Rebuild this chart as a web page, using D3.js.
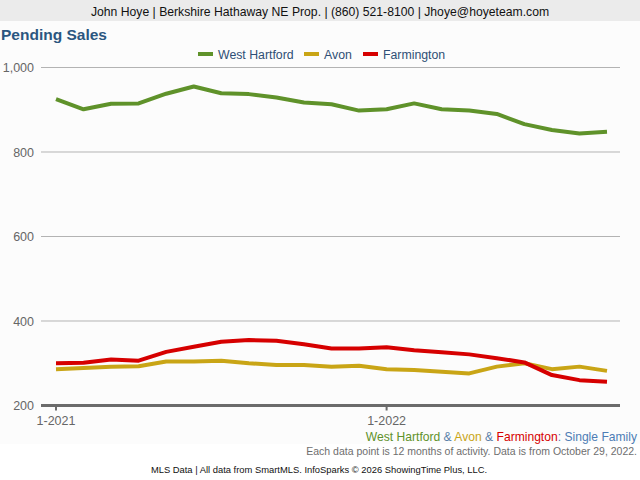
<!DOCTYPE html>
<html>
<head>
<meta charset="utf-8">
<script src="https://cdn.jsdelivr.net/npm/d3@7"></script>
<style>
  body { margin: 0; background: #fff; font-family: "Liberation Sans", Arial, sans-serif; }
  svg text { font-family: "Liberation Sans", Arial, sans-serif; }
</style>
</head>
<body>
<div id="chart"></div>
<script>
// months Jan 2021 .. Sep 2022
const months = ['1-2021','2-2021','3-2021','4-2021','5-2021','6-2021','7-2021','8-2021','9-2021','10-2021','11-2021','12-2021',
    '1-2022','2-2022','3-2022','4-2022','5-2022','6-2022','7-2022','8-2022','9-2022'];
const westHartford = [925, 901, 914, 915, 938, 955, 939, 937, 929, 917, 913, 898, 901, 915, 901, 898, 890, 866, 852, 844, 848];
const avon = [286, 289, 292, 293, 304, 304, 306, 300, 296, 296, 292, 294, 286, 284, 280, 276, 292, 300, 286, 292, 282];
const farmington = [300, 301, 309, 306, 327, 339, 351, 355, 353, 345, 335, 335, 338, 331, 326, 321, 312, 302, 272, 260, 256];
const yTicks = [200, 400, 600, 800, 1000];
const xTickLabels = ['1-2021', '1-2022'];

const seriesNames = ['West Hartford', 'Avon', 'Farmington'];
const seriesColors = ['#5f922a', '#c9a516', '#d60000'];
const series = [westHartford, avon, farmington];

const width = 640, height = 480;
const svg = d3.select('#chart').append('svg')
    .attr('width', width)
    .attr('height', height);

// header band
svg.append('rect')
    .attr('x', 0).attr('y', 0)
    .attr('width', width).attr('height', 21)
    .attr('fill', '#ebebeb');
svg.append('text')
    .attr('x', 320).attr('y', 15.5)
    .attr('text-anchor', 'middle')
    .attr('font-size', 12.2)
    .attr('fill', '#111')
    .text('John Hoye | Berkshire Hathaway NE Prop. | (860) 521-8100 | Jhoye@hoyeteam.com');

// chart panel
svg.append('rect')
    .attr('x', 0).attr('y', 21)
    .attr('width', width).attr('height', 423)
    .attr('fill', '#fcfcfc');

svg.append('text')
    .attr('x', 1).attr('y', 40)
    .attr('font-size', 15.5)
    .attr('font-weight', 'bold')
    .attr('fill', '#2b5680')
    .text('Pending Sales');

// legend
const legendX = [198, 304, 363];
const legend = svg.append('g');
seriesNames.forEach((name, i) => {
    legend.append('rect')
        .attr('x', legendX[i]).attr('y', 52)
        .attr('width', 15).attr('height', 4)
        .attr('fill', seriesColors[i]);
    legend.append('text')
        .attr('x', legendX[i] + 20).attr('y', 58.5)
        .attr('font-size', 12.3)
        .attr('fill', '#2f4f75')
        .text(name);
});

// scales
const x = d3.scalePoint()
    .domain(months)
    .range([56, 607]);
const y = d3.scaleLinear()
    .domain([200, 1000])
    .range([405.5, 67.5]);

// gridlines
svg.append('g')
    .selectAll('line')
    .data(yTicks.filter(d => d !== 200))
    .join('line')
    .attr('x1', 41).attr('x2', 620)
    .attr('y1', d => y(d)).attr('y2', d => y(d))
    .attr('stroke', '#b3b3b3')
    .attr('stroke-width', 1);

// y labels
svg.append('g')
    .selectAll('text')
    .data(yTicks)
    .join('text')
    .attr('x', 34)
    .attr('y', d => y(d) + 4.5)
    .attr('text-anchor', 'end')
    .attr('font-size', 12.5)
    .attr('fill', '#666')
    .text(d => d3.format(',')(d));

// bottom axis
svg.append('line')
    .attr('x1', 41).attr('x2', 620)
    .attr('y1', y(200)).attr('y2', y(200))
    .attr('stroke', '#6b6b6b')
    .attr('stroke-width', 3);
svg.append('g')
    .selectAll('line')
    .data(xTickLabels)
    .join('line')
    .attr('x1', d => x(d)).attr('x2', d => x(d))
    .attr('y1', y(200)).attr('y2', y(200) + 5)
    .attr('stroke', '#6b6b6b')
    .attr('stroke-width', 2);
svg.append('g')
    .selectAll('text')
    .data(xTickLabels)
    .join('text')
    .attr('x', d => x(d))
    .attr('y', 425)
    .attr('text-anchor', 'middle')
    .attr('font-size', 12.5)
    .attr('fill', '#666')
    .text(d => d);

// lines
const line = d3.line()
    .x((d, i) => x(months[i]))
    .y(d => y(d));
svg.append('g')
    .selectAll('path')
    .data(series)
    .join('path')
    .attr('d', d => line(d))
    .attr('fill', 'none')
    .attr('stroke', (d, i) => seriesColors[i])
    .attr('stroke-width', 4)
    .attr('stroke-linejoin', 'round');

// footer
const sub = svg.append('text')
    .attr('x', 637).attr('y', 441)
    .attr('text-anchor', 'end')
    .attr('font-size', 12.1);
const parts = [
    ['West Hartford', '#5f922a'], [' & ', '#5a7fa8'], ['Avon', '#c9a516'], [' & ', '#5a7fa8'],
    ['Farmington', '#d60000'], [': Single Family', '#4d7db5']
];
parts.forEach(p => sub.append('tspan').attr('fill', p[1]).text(p[0]));

svg.append('text')
    .attr('x', 637).attr('y', 455)
    .attr('text-anchor', 'end')
    .attr('font-size', 10.5)
    .attr('fill', '#6e6e6e')
    .text('Each data point is 12 months of activity. Data is from October 29, 2022.');

svg.append('text')
    .attr('x', 319).attr('y', 473)
    .attr('text-anchor', 'middle')
    .attr('font-size', 9.4)
    .attr('fill', '#111')
    .text('MLS Data | All data from SmartMLS. InfoSparks © 2026 ShowingTime Plus, LLC.');
</script>
</body>
</html>
